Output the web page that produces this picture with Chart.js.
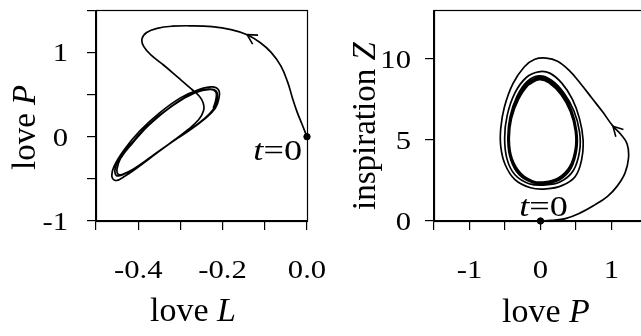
<!DOCTYPE html>
<html>
<head>
<meta charset="utf-8">
<script src="https://cdn.jsdelivr.net/npm/chart.js@4.4.1/dist/chart.umd.min.js"></script>
<style>
  html, body { margin: 0; padding: 0; background: #fff; overflow: hidden; }
  #wrap { position: relative; width: 641px; height: 336px; overflow: hidden; }
  canvas { position: absolute; top: 0; }
  #left { left: 0; }
  #right { left: 330px; }
</style>
</head>
<body>
<div id="wrap">
  <canvas id="left" width="330" height="336"></canvas>
  <canvas id="right" width="340" height="336"></canvas>
</div>
<script>
// tick labels
const leftXTicks = [-0.4, -0.2, 0.0];
const leftXTickText = ["-0.4", "-0.2", "0.0"];
const leftYTicks = [-1, 0, 1];
const leftYTickText = ["-1", "0", "1"];
const rightXTicks = [-1, 0, 1];
const rightXTickText = ["-1", "0", "1"];
const rightYTicks = [0, 5, 10];
const rightYTickText = ["0", "5", "10"];

// left panel: [love L, love P], trajectory starting at t=0
const leftTransient = [
  [0, 0], [-0.012, 0.15], [-0.024, 0.3], [-0.034, 0.45], [-0.046, 0.65], [-0.062, 0.84],
  [-0.085, 1.0], [-0.112, 1.12], [-0.142, 1.21], [-0.18, 1.27], [-0.225, 1.305], [-0.275, 1.315],
  [-0.32, 1.31], [-0.355, 1.285], [-0.38, 1.235], [-0.391, 1.16], [-0.387, 1.07], [-0.37, 0.97],
  [-0.34, 0.85], [-0.305, 0.7], [-0.275, 0.57], [-0.255, 0.48]
];
const leftFirstLoop = [
  [-0.246, 0.4], [-0.245, 0.31], [-0.257, 0.2], [-0.283, 0.08], [-0.32, -0.06], [-0.36, -0.21],
  [-0.4, -0.36], [-0.432, -0.47], [-0.452, -0.52], [-0.462, -0.48], [-0.458, -0.36], [-0.434, -0.16],
  [-0.396, 0.07], [-0.35, 0.28], [-0.3, 0.46], [-0.256, 0.56], [-0.225, 0.59], [-0.209, 0.55], [-0.209, 0.45]
];
const leftCycleA = [
  [-0.217, 0.34], [-0.24, 0.22], [-0.28, 0.07], [-0.325, -0.08], [-0.37, -0.24], [-0.41, -0.38],
  [-0.438, -0.455], [-0.452, -0.46], [-0.455, -0.39], [-0.447, -0.27], [-0.418, -0.09], [-0.378, 0.13],
  [-0.322, 0.36], [-0.268, 0.52], [-0.232, 0.565], [-0.215, 0.54], [-0.213, 0.45]
];
const leftCycleB = [
  [-0.22, 0.34], [-0.244, 0.21], [-0.284, 0.06], [-0.33, -0.1], [-0.374, -0.255], [-0.412, -0.385],
  [-0.437, -0.445], [-0.448, -0.445], [-0.45, -0.38], [-0.442, -0.26], [-0.414, -0.08], [-0.374, 0.14],
  [-0.318, 0.37], [-0.265, 0.52], [-0.23, 0.56], [-0.216, 0.53], [-0.216, 0.44], [-0.222, 0.34]
];

// right panel: [love P, inspiration Z], trajectory starting at t=0
const rightTransient = [
  [0, 0], [0.15, 0.04], [0.35, 0.15], [0.56, 0.5], [0.76, 0.98], [0.94, 1.5], [1.08, 2.15],
  [1.19, 2.95], [1.24, 3.9], [1.22, 4.75], [1.13, 5.35], [1.02, 5.85], [0.88, 6.7], [0.72, 7.6],
  [0.56, 8.5], [0.4, 9.3], [0.24, 9.85], [0.08, 10.05], [-0.08, 9.97], [-0.23, 9.5], [-0.39, 8.45],
  [-0.51, 7.0], [-0.56, 5.7], [-0.56, 4.6], [-0.5, 3.5], [-0.36, 2.55], [-0.14, 2.05], [0.08, 1.98],
  [0.3, 2.18], [0.49, 2.75], [0.58, 3.8], [0.6, 5.0], [0.55, 6.3], [0.45, 7.5], [0.3, 8.5],
  [0.13, 9.12], [-0.03, 9.2]
];
const rightSecondLoop = [
  [-0.2, 8.85], [-0.36, 7.9], [-0.47, 6.5], [-0.505, 5.1], [-0.47, 3.8], [-0.36, 2.85], [-0.16, 2.3],
  [0.06, 2.22], [0.28, 2.42], [0.46, 3.1], [0.55, 4.3], [0.55, 5.5], [0.47, 6.8], [0.33, 7.9],
  [0.15, 8.7], [-0.02, 8.95]
];
const rightCycleA = [
  [-0.19, 8.6], [-0.33, 7.7], [-0.43, 6.4], [-0.46, 5.0], [-0.42, 3.8], [-0.3, 2.85], [-0.12, 2.38],
  [0.06, 2.32], [0.27, 2.55], [0.43, 3.25], [0.51, 4.4], [0.51, 5.55], [0.44, 6.8], [0.31, 7.85],
  [0.14, 8.6], [-0.02, 8.85]
];
const rightCycleB = [
  [-0.18, 8.5], [-0.32, 7.6], [-0.42, 6.35], [-0.45, 5.0], [-0.41, 3.82], [-0.29, 2.9], [-0.12, 2.42],
  [0.06, 2.36], [0.26, 2.6], [0.42, 3.3], [0.5, 4.42], [0.5, 5.55], [0.43, 6.78], [0.3, 7.82],
  [0.13, 8.57], [-0.02, 8.8]
];
const rightCycleC = [
  [-0.17, 8.4], [-0.31, 7.5], [-0.41, 6.3], [-0.44, 5.0], [-0.4, 3.85], [-0.28, 2.95], [-0.11, 2.47],
  [0.06, 2.41], [0.25, 2.65], [0.41, 3.35], [0.49, 4.45], [0.49, 5.55], [0.42, 6.75], [0.29, 7.78],
  [0.12, 8.52], [-0.02, 8.72], [-0.17, 8.4]
];

// which point of the transient carries the arrow head
const leftArrowAt = 8;
const rightArrowAt = 11;

const SERIF = '"Liberation Serif", "Times New Roman", serif';
const toXY = (arr) => arr.map((p) => ({ x: p[0], y: p[1] }));

function drawText(ctx, parts, x, y, size, stretch, align, rotate) {
  ctx.save();
  ctx.translate(x, y);
  if (rotate) ctx.rotate(-Math.PI / 2);
  ctx.scale(stretch, 1);
  ctx.textBaseline = "alphabetic";
  ctx.textAlign = "left";
  ctx.fillStyle = "#000";
  let w = 0;
  for (const [t, it] of parts) {
    ctx.font = (it ? "italic " : "") + size + "px " + SERIF;
    w += ctx.measureText(t).width;
  }
  let cx = align === "center" ? -w / 2 : align === "right" ? -w : 0;
  for (const [t, it] of parts) {
    ctx.font = (it ? "italic " : "") + size + "px " + SERIF;
    ctx.fillText(t, cx, 0);
    cx += ctx.measureText(t).width;
  }
  ctx.restore();
}

// frame, arrow head, tick labels, titles and the t=0 note
const decor = {
  id: "decor",
  afterDatasetsDraw(chart, args, o) {
    const ctx = chart.ctx;
    const a = chart.chartArea;
    const sx = chart.scales.x;
    const sy = chart.scales.y;
    ctx.save();
    ctx.strokeStyle = "#000";
    ctx.lineWidth = 1.2;
    ctx.strokeRect(Math.round(a.left) + 0.5, Math.round(a.top) + 0.5,
      Math.round(a.right - a.left), Math.round(a.bottom - a.top));

    const path = chart.data.datasets[0].data;
    const p = path[o.arrowAt];
    const q = path[o.arrowAt - 1];
    const px = sx.getPixelForValue(p.x);
    const py = sy.getPixelForValue(p.y);
    const ang = Math.atan2(py - sy.getPixelForValue(q.y), px - sx.getPixelForValue(q.x));
    ctx.beginPath();
    for (const s of [-1, 1]) {
      ctx.moveTo(px, py);
      ctx.lineTo(px - 11 * Math.cos(ang + s * 0.5), py - 11 * Math.sin(ang + s * 0.5));
    }
    ctx.lineWidth = 1.6;
    ctx.stroke();
    ctx.restore();

    o.xTicks.forEach((v, i) => {
      drawText(ctx, [[o.xTickText[i], false]], sx.getPixelForValue(v), o.xTickBase, 26, 1.18, "center");
    });
    o.yTicks.forEach((v, i) => {
      drawText(ctx, [[o.yTickText[i], false]], o.yTickRight, sy.getPixelForValue(v) + 9, 26, 1.18, "right");
    });
    drawText(ctx, o.xTitle, o.xTitleX, o.xTitleY, 33, 1.03, "left");
    drawText(ctx, o.yTitle, o.yTitleX, o.yTitleY, 33, 1.0, "left", true);

    const dx = sx.getPixelForValue(0);
    const dy = sy.getPixelForValue(0);
    drawText(ctx, [["t", true], ["=0", false]], dx + o.t0dx, dy + o.t0dy, 29, 1.25, o.t0align);
  }
};

function axis(min, max, step, fit, bounds) {
  return {
    type: "linear",
    min: min,
    max: max,
    ticks: { stepSize: step, color: "transparent", autoSkip: false, maxRotation: 0, includeBounds: bounds },
    grid: { drawOnChartArea: false, drawTicks: true, tickLength: 9, color: "#000", lineWidth: 1.2 },
    border: { display: true, color: "#000", width: 1.2 },
    afterFit: fit
  };
}

function lineSet(points) {
  return {
    data: points,
    showLine: true,
    borderColor: "#000",
    borderWidth: 1.7,
    pointRadius: 0,
    tension: 0.4,
    fill: false
  };
}

function dotSet() {
  return {
    data: [{ x: 0, y: 0 }],
    pointRadius: 3.2,
    pointBackgroundColor: "#000",
    pointBorderColor: "#000",
    clip: false
  };
}

// left panel
const leftPath = toXY([...leftTransient, ...leftFirstLoop, ...leftCycleA, ...leftCycleB]);
new Chart(document.getElementById("left"), {
  type: "scatter",
  data: { datasets: [lineSet(leftPath), dotSet()] },
  plugins: [decor],
  options: {
    responsive: false,
    animation: false,
    layout: { padding: { left: 0, top: 10, right: 23, bottom: 0 } },
    plugins: {
      legend: { display: false },
      tooltip: { enabled: false },
      decor: {
        arrowAt: leftArrowAt,
        xTicks: leftXTicks, xTickText: leftXTickText, xTickBase: 278,
        yTicks: leftYTicks, yTickText: leftYTickText, yTickRight: 68,
        xTitle: [["love ", false], ["L", true]], xTitleX: 150, xTitleY: 321,
        yTitle: [["love ", false], ["P", true]], yTitleX: 35, yTitleY: 170,
        t0dx: -5, t0dy: 23, t0align: "right"
      }
    },
    scales: {
      x: axis(-0.5, 0, 0.1, (s) => { s.height = 115; }, true),
      y: axis(-1, 1.5, 0.5, (s) => { s.width = 96; }, true)
    }
  }
});

// right panel
const rightPath = toXY([...rightTransient, ...rightSecondLoop, ...rightCycleA, ...rightCycleB, ...rightCycleC]);
new Chart(document.getElementById("right"), {
  type: "scatter",
  data: { datasets: [lineSet(rightPath), dotSet()] },
  plugins: [decor],
  options: {
    responsive: false,
    animation: false,
    layout: { padding: { left: 0, top: 9, right: 23, bottom: 0 } },
    plugins: {
      legend: { display: false },
      tooltip: { enabled: false },
      decor: {
        arrowAt: rightArrowAt,
        xTicks: rightXTicks, xTickText: rightXTickText, xTickBase: 278,
        yTicks: rightYTicks, yTickText: rightYTickText, yTickRight: 81,
        xTitle: [["love ", false], ["P", true]], xTitleX: 172, xTitleY: 322,
        yTitle: [["inspiration ", false], ["Z", true]], yTitleX: 45, yTitleY: 210,
        t0dx: 3, t0dy: -5, t0align: "center"
      }
    },
    scales: {
      x: axis(-1.5, 1.5, 0.5, (s) => { s.height = 115; }, true),
      y: axis(0, 13, 5, (s) => { s.width = 104; }, false)
    }
  }
});
</script>
</body>
</html>
